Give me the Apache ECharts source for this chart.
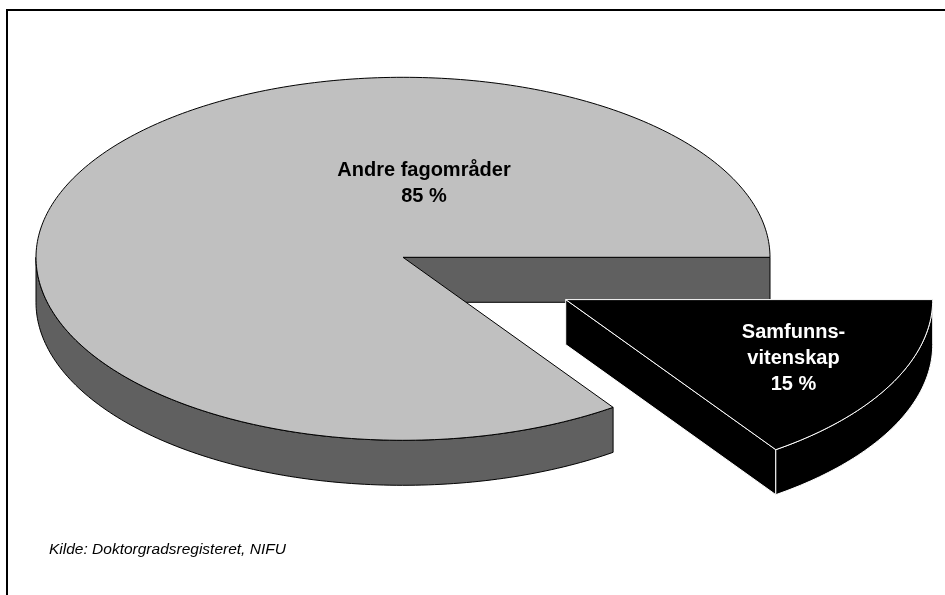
<!DOCTYPE html>
<html>
<head>
<meta charset="utf-8">
<script src="https://cdn.jsdelivr.net/npm/echarts@6/dist/echarts.min.js"></script>
<style>
html,body{margin:0;padding:0;background:#fff;}
#chart{width:945px;height:595px;}
</style>
</head>
<body>
<div id="chart"></div>
<script>
// ---- data ----
const categories = ['Andre fagområder', 'Samfunnsvitenskap'];
const shares = [84.7, 15.3];
const labelLines = [['Andre fagområder'], ['Samfunns-', 'vitenskap']];
const sourceText = 'Kilde: Doktorgradsregisteret, NIFU';

// ---- style / geometry ----
const explode = [0, 0.5];
const topColors = ['#c0c0c0', '#000000'];
const sideColors = ['#606060', '#000000'];
const edgeColors = ['#000000', '#ffffff'];
const textColors = ['#000000', '#ffffff'];
const CX = 403, CY = 257.3, RX = 367, RF = 183, RB = 180, DEPTH = 45;
const FONT = 'Arial, "Liberation Sans", sans-serif';

function pt(a, ox, oy, dz) {
  const s = Math.sin(a);
  return [CX + ox + RX * Math.cos(a), CY + oy + (s > 0 ? RF : RB) * s + dz];
}
function arc(a0, a1, ox, oy, dz) {
  const n = Math.max(2, Math.ceil(Math.abs(a1 - a0) / (Math.PI / 180)));
  const out = [];
  for (let k = 0; k <= n; k++) out.push(pt(a0 + (a1 - a0) * k / n, ox, oy, dz));
  return out;
}

const total = shares.reduce((s, v) => s + v, 0);

function renderItem(params, api) {
  const i = params.dataIndex;
  const v = api.value(0);
  let after = 0;
  for (let j = i + 1; j < shares.length; j++) after += shares[j];
  const a0 = after / total * Math.PI * 2;
  const a1 = a0 + v / total * Math.PI * 2;
  const mid = (a0 + a1) / 2;
  const sm = Math.sin(mid);
  const ox = explode[i] * RX * Math.cos(mid);
  const oy = explode[i] * (sm > 0 ? RF : RB) * sm;
  const zb = i * 10;
  const lineStyle = { stroke: edgeColors[i], lineWidth: 1, lineJoin: 'round' };
  const children = [];
  const c = [CX + ox, CY + oy];
  const cb = [CX + ox, CY + oy + DEPTH];

  // cut faces
  [[a0, -1], [a1, 1]].forEach(([a, dir]) => {
    const visible = dir > 0 ? Math.cos(a) > 0 : Math.cos(a) < 0;
    if (!visible) return;
    const p = pt(a, ox, oy, 0), pb = pt(a, ox, oy, DEPTH);
    children.push({
      type: 'polygon', z2: zb + 1,
      shape: { points: [c, p, pb, cb] },
      style: Object.assign({ fill: sideColors[i] }, lineStyle)
    });
  });

  // outer wall (front half only)
  [0, Math.PI * 2].forEach(k => {
    const s = Math.max(a0, k), e = Math.min(a1, k + Math.PI);
    if (e - s <= 1e-6) return;
    const topArc = arc(s, e, ox, oy, 0);
    const botArc = arc(s, e, ox, oy, DEPTH).reverse();
    children.push({
      type: 'polygon', z2: zb + 2,
      shape: { points: topArc.concat(botArc) },
      style: Object.assign({ fill: sideColors[i] }, lineStyle)
    });
  });

  // top face
  children.push({
    type: 'polygon', z2: zb + 3,
    shape: { points: [c].concat(arc(a0, a1, ox, oy, 0)) },
    style: Object.assign({ fill: topColors[i] }, lineStyle)
  });

  // label
  let lx, ly;
  if (i === 0) { lx = CX + 21; ly = 183.4; }
  else {
    lx = c[0] + 0.7 * RX * Math.cos(mid);
    ly = c[1] + 0.7 * (sm > 0 ? RF : RB) * sm;
  }
  children.push({
    type: 'text', z2: zb + 5, x: lx, y: ly,
    style: {
      text: labelLines[i].concat([Math.round(v) + ' %']).join('\n'),
      fill: textColors[i], fontSize: 20, fontWeight: 'bold', fontFamily: FONT,
      align: 'center', verticalAlign: 'middle', lineHeight: 26
    }
  });

  return { type: 'group', children };
}

const chart = echarts.init(document.getElementById('chart'), null, { renderer: 'canvas' });
chart.setOption({
  animation: false,
  backgroundColor: '#ffffff',
  graphic: [
    { type: 'rect', shape: { x: 7, y: 10, width: 980, height: 620 },
      style: { fill: 'none', stroke: '#000', lineWidth: 2 }, z: 0 },
    { type: 'text', x: 49, y: 549.5,
      style: { text: sourceText, fill: '#000', fontSize: 15.5, fontStyle: 'italic',
               fontFamily: FONT, align: 'left', verticalAlign: 'middle' }, z: 5 }
  ],
  series: [{
    type: 'custom',
    coordinateSystem: 'none',
    renderItem: renderItem,
    data: shares.map((v, i) => ({ name: categories[i], value: [v, i] })),
    silent: true
  }]
});
</script>
</body>
</html>
